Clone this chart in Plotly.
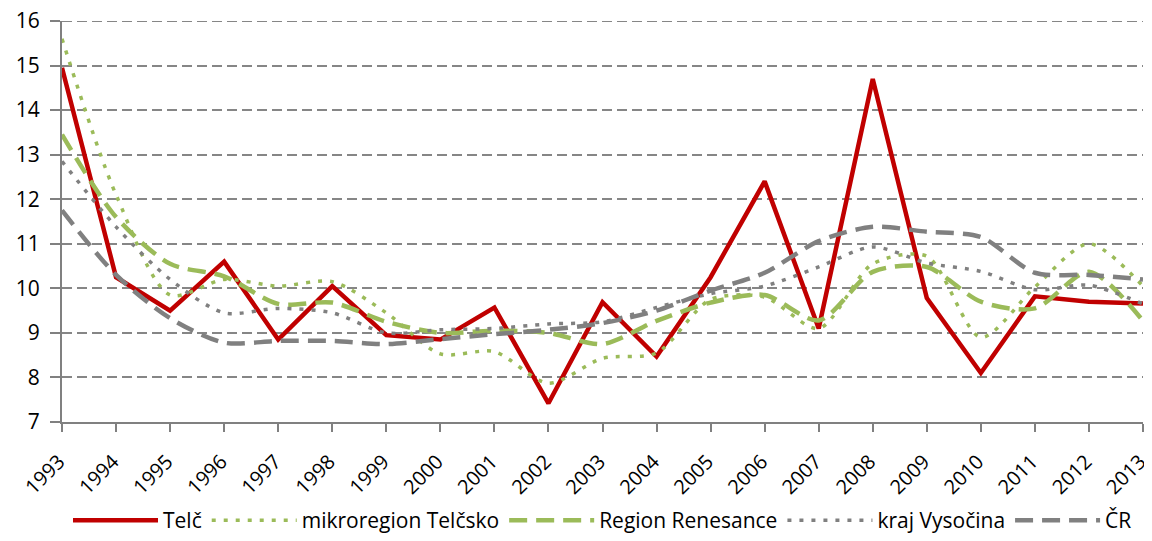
import plotly.graph_objects as go

years = [str(y) for y in range(1993, 2014)]

telc = [14.95, 10.25, 9.5, 10.6, 8.85, 10.05, 8.95, 8.85, 9.57, 7.42, 9.69,
        8.47, 10.25, 12.4, 9.1, 14.7, 9.78, 8.1, 9.82, 9.7, 9.66]
mikroregion = [15.6, 12.1, 9.85, 10.2, 10.05, 10.15, 9.45, 8.53, 8.58, 7.87, 8.43,
               8.55, 9.75, 9.8, 9.1, 10.55, 10.72, 8.9, 10.03, 11.0, 10.05]
renesance = [13.45, 11.6, 10.55, 10.27, 9.65, 9.68, 9.25, 9.0, 9.05, 9.0, 8.75,
             9.27, 9.68, 9.85, 9.28, 10.37, 10.48, 9.7, 9.55, 10.37, 9.27]
vysocina = [12.85, 11.38, 10.2, 9.45, 9.55, 9.45, 9.0, 9.07, 9.1, 9.2, 9.25,
            9.57, 9.88, 10.05, 10.48, 10.93, 10.57, 10.38, 9.97, 10.07, 9.65]
cr = [11.75, 10.3, 9.33, 8.78, 8.82, 8.82, 8.75, 8.86, 8.97, 9.07, 9.22,
      9.5, 9.95, 10.35, 11.06, 11.38, 11.27, 11.15, 10.35, 10.3, 10.2]

red = "#C00000"
green = "#9BBB59"
gray = "#808080"

# smoothed lines like the Excel original, except Telč
smooth = dict(shape="spline", smoothing=0.8)

fig = go.Figure()
fig.add_trace(go.Scatter(x=years, y=telc, name="Telč", mode="lines",
                         line=dict(color=red, width=4.5)))
fig.add_trace(go.Scatter(x=years, y=mikroregion, name="mikroregion Telčsko", mode="lines",
                         line=dict(color=green, width=3.5, dash="4px,8px", **smooth)))
fig.add_trace(go.Scatter(x=years, y=renesance, name="Region Renesance", mode="lines",
                         line=dict(color=green, width=4.5, dash="18px,9px", **smooth)))
fig.add_trace(go.Scatter(x=years, y=vysocina, name="kraj Vysočina", mode="lines",
                         line=dict(color=gray, width=3.5, dash="4px,8px", **smooth)))
fig.add_trace(go.Scatter(x=years, y=cr, name="ČR", mode="lines",
                         line=dict(color=gray, width=4.5, dash="18px,9px", **smooth)))

# top gridline (plotly drops the one at the range edge)
fig.add_hline(y=16, line=dict(color="#868686", width=2, dash="10px,5px"), layer="below")

# page body has an 8px margin: keep the figure inside the window
fig.update_layout(
    width=1144, height=533,
    margin=dict(l=54, r=9, t=13, b=119),
    paper_bgcolor="white", plot_bgcolor="white",
    font=dict(family="Open Sans, sans-serif", size=21, color="black"),
    showlegend=True,
    legend=dict(orientation="h", x=0.5, xanchor="center",
                yref="container", y=0.0, yanchor="bottom",
                font=dict(size=21), itemwidth=85, tracegroupgap=0),
)
fig.update_xaxes(
    type="category", range=[0, 20], automargin=False,
    showline=True, linecolor=gray, linewidth=2,
    ticks="outside", tickcolor=gray, ticklen=8, tickwidth=2,
    tickangle=-45, tickfont=dict(size=20), ticklabelstandoff=10, ticklabelshift=-3,
    ticklabeloverflow="allow", showgrid=False, zeroline=False,
)
fig.update_yaxes(
    range=[7, 16], dtick=1, automargin=False,
    showline=True, linecolor=gray, linewidth=2,
    ticks="outside", tickcolor=gray, ticklen=10, tickwidth=2,
    showgrid=True, gridcolor="#868686", griddash="10px,5px", gridwidth=2, zeroline=False,
    tickfont=dict(size=21), ticklabelstandoff=6, ticklabeloverflow="allow",
)

fig.write_html("out.html")
